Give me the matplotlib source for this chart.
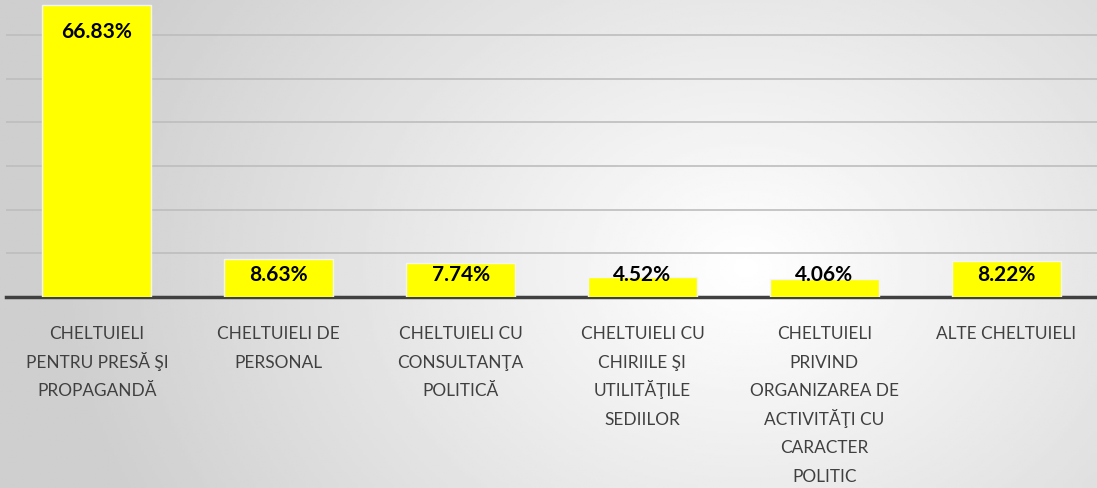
import matplotlib.pyplot as plt
import numpy as np

categories = [
    "CHELTUIELI\nPENTRU PRESĂ ŞI\nPROPAGANDĂ",
    "CHELTUIELI DE\nPERSONAL",
    "CHELTUIELI CU\nCONSULTANŢA\nPOLITICĂ",
    "CHELTUIELI CU\nCHIRIILE ŞI\nUTILITĂŢILE\nSEDIILOR",
    "CHELTUIELI\nPRIVIND\nORGANIZAREA DE\nACTIVITĂŢI CU\nCARACTER\nPOLITIC",
    "ALTE CHELTUIELI",
]
shares = [66.83, 8.63, 7.74, 4.52, 4.06, 8.22]

plt.rcParams['font.family'] = ['Lato', 'DejaVu Sans']

fig = plt.figure(figsize=(10.97, 4.89), dpi=100)

# radial gradient background
bg = fig.add_axes([0, 0, 1, 1], zorder=0)
gx, gy = np.meshgrid(np.linspace(0, 1, 400), np.linspace(0, 1, 200))
r = np.sqrt(((gx - 0.68) * 1.6) ** 2 + ((gy - 0.55) * 0.9) ** 2)
shade = 1.0 - 0.19 * np.clip(r / 1.0, 0, 1)
bg.imshow(shade, cmap='gray', vmin=0, vmax=1, aspect='auto', extent=[0, 1, 0, 1], origin='upper')
bg.axis('off')

ax = fig.add_axes([6 / 1097, 191 / 489, 1 - 6 / 1097, 1 - 191 / 489], zorder=1)
ax.patch.set_alpha(0)

x = np.arange(len(categories))
ax.bar(x, shares, width=0.6, color='#ffff00', edgecolor='#f4f4f4', linewidth=1, zorder=3)

for xi, v in zip(x, shares):
    ax.text(xi, max(v - 5.9, 5.3), f"{v:.2f}%", ha='center', va='center',
            fontsize=15, fontweight='bold', color='black', zorder=4)

# category labels, one line at a time so the spacing stays even
for xi, cat in zip(x, categories):
    for i, line in enumerate(cat.split("\n")):
        ax.annotate(line, xy=(xi, 0), xycoords=('data', 'axes fraction'),
                    xytext=(0, -29.5 - i * 20.6), textcoords='offset points',
                    ha='center', va='baseline', fontsize=12.4, color='#404040')

ax.set_xlim(-0.5, len(categories) - 0.5)
ax.set_ylim(0, 68.2)
ax.set_yticks(np.arange(10, 70, 10))
ax.yaxis.grid(True, color='#bdbdbd', linewidth=1.2)
ax.set_axisbelow(True)
ax.tick_params(axis='both', length=0, labelleft=False, labelbottom=False)
ax.set_xticks(x)

for s in ['top', 'right', 'left']:
    ax.spines[s].set_visible(False)
ax.spines['bottom'].set_color('#404040')
ax.spines['bottom'].set_linewidth(2.5)

fig.savefig('out.png', dpi=100)
